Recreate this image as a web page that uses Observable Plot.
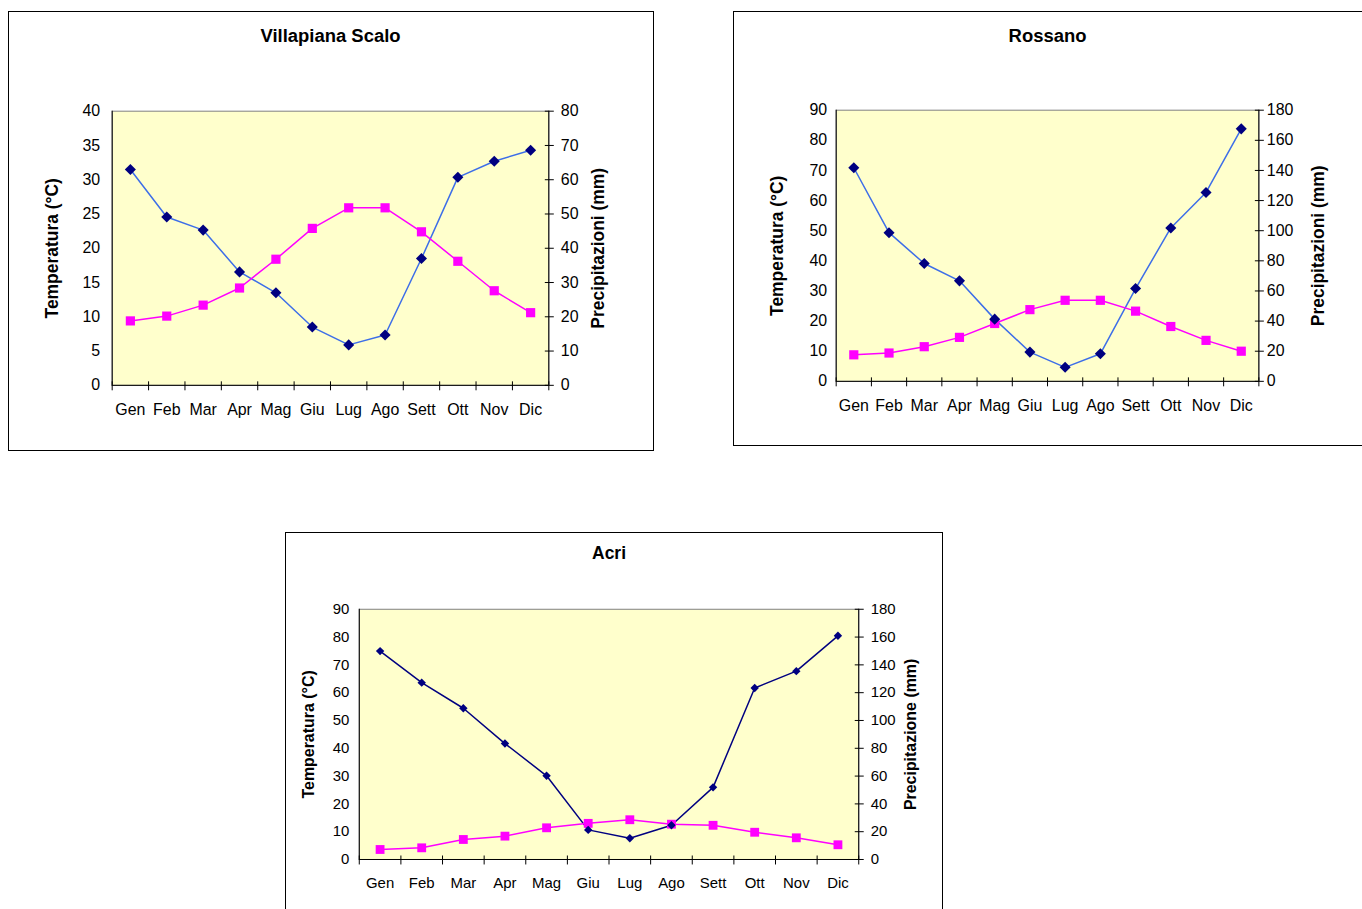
<!DOCTYPE html>
<html><head><meta charset="utf-8">
<script src="https://cdn.jsdelivr.net/npm/d3@7"></script>
<script src="https://cdn.jsdelivr.net/npm/@observablehq/plot@0.6"></script>
<style>
html,body{margin:0;padding:0;background:#fff;}
body{width:1362px;height:909px;overflow:hidden;position:relative;font-family:Arial,"Liberation Sans",sans-serif;}
.frame{position:absolute;border:1px solid #000;box-sizing:border-box;overflow:hidden;background:#fff;}
.frame svg{position:absolute;left:-1px;top:-1px;}
</style></head><body>
<div id="c1" class="frame" style="left:8px;top:11px;width:646px;height:440px"></div>
<div id="c2" class="frame" style="left:733px;top:11px;width:646px;height:435px"></div>
<div id="c3" class="frame" style="left:285px;top:532px;width:658px;height:400px"></div>
<script>
const months = ["Gen","Feb","Mar","Apr","Mag","Giu","Lug","Ago","Sett","Ott","Nov","Dic"];

const villapianaTemp = [9.4,10.1,11.7,14.2,18.4,22.9,25.9,25.9,22.4,18.1,13.8,10.6];
const villapianaPrec = [63.0,49.1,45.3,33.1,27.0,17.0,11.8,14.7,37.0,60.7,65.4,68.6];

const rossanoTemp = [8.8,9.4,11.5,14.6,19.2,23.8,26.9,26.9,23.3,18.2,13.6,10.0];
const rossanoPrec = [141.8,98.7,78.2,66.7,41.3,19.4,9.3,18.3,61.6,101.8,125.4,167.6];

const acriTemp = [3.6,4.2,7.2,8.4,11.4,13.0,14.3,12.7,12.3,9.8,7.8,5.3];
const acriPrec = [149.9,127.2,108.8,83.4,60.2,21.3,15.3,24.6,51.9,123.4,135.5,160.9];

const vTicks = [0,5,10,15,20,25,30,35,40];
const vPTicks = [0,10,20,30,40,50,60,70,80];
const rTicks = [0,10,20,30,40,50,60,70,80,90];
const rPTicks = [0,20,40,60,80,100,120,140,160,180];

const vTick = {draw(c){ c.moveTo(0,-4); c.lineTo(0,5); }};
const hTick = {draw(c){ c.moveTo(-4,0); c.lineTo(5,0); }};
const diamond = {draw(c, s){ const r = Math.sqrt(s)*0.62625; c.moveTo(0,-r); c.lineTo(r,0); c.lineTo(0,r); c.lineTo(-r,0); c.closePath(); }};

function chart(o) {
  const k = o.tMax / o.pMax;
  const mx = (d,i) => i + 0.5;
  return Plot.plot({
    width: o.width, height: o.height,
    marginLeft: o.ml, marginRight: o.mr, marginTop: o.mt, marginBottom: o.mb,
    style: {fontFamily: "Arial, 'Liberation Sans', sans-serif", fontSize: o.fs + "px", color: "#000", background: "transparent", overflow: "visible"},
    x: {domain: [0, 12], axis: null},
    y: {domain: [0, o.tMax], axis: null},
    marks: [
      Plot.frame({fill: "#FFFFCC", stroke: "#808080"}),
      Plot.ruleX([0, 12], {stroke: "#000"}),
      Plot.ruleY([0], {stroke: "#000"}),
      Plot.dot(d3.range(13), {x: d => d, y: 0, symbol: vTick, stroke: "#000", fill: null, strokeWidth: 1}),
      Plot.dot(o.pTicks, {x: 12, y: d => d * k, symbol: hTick, stroke: "#000", fill: null, strokeWidth: 1}),
      Plot.axisX(d3.range(12).map(i => i + 0.5), {tickSize: 0, tickPadding: o.xPad, tickFormat: d => months[Math.floor(d)], label: null, fontSize: o.fs}),
      Plot.axisY(o.tTicks, {anchor: "left", tickSize: 0, tickPadding: o.lPad, label: null, fontSize: o.fs}),
      Plot.axisY(o.pTicks.map(v => v * k), {anchor: "right", tickSize: 0, tickPadding: o.rPad, tickFormat: v => String(Math.round(v / k)), label: null, fontSize: o.fs}),
      Plot.line(o.prec, {x: mx, y: d => d * k, stroke: o.lineColor, strokeWidth: 1.5}),
      Plot.line(o.temp, {x: mx, y: d => d, stroke: "#FF00FF", strokeWidth: 1.5}),
      Plot.dot(o.temp, {x: mx, y: d => d, symbol: "square", r: o.sqR, fill: "#FF00FF", stroke: null}),
      Plot.dot(o.prec, {x: mx, y: d => d * k, symbol: diamond, r: o.diR, fill: "#000080", stroke: null}),
      Plot.text([o.title], {text: d => d, frameAnchor: "top", dy: o.titleDy, textAnchor: "middle", lineAnchor: "middle", fontWeight: "bold", fontSize: o.titleFs}),
      Plot.text([o.leftLabel], {text: d => d, frameAnchor: "left", dx: o.leftDx, rotate: -90, textAnchor: "middle", lineAnchor: "middle", fontWeight: "bold", fontSize: o.labFs}),
      Plot.text([o.rightLabel], {text: d => d, frameAnchor: "right", dx: o.rightDx, rotate: -90, textAnchor: "middle", lineAnchor: "middle", fontWeight: "bold", fontSize: o.labFs})
    ]
  });
}

document.getElementById("c1").append(chart({
  width: 646, height: 440, ml: 104, mr: 104, mt: 100, mb: 65,
  temp: villapianaTemp, prec: villapianaPrec, tMax: 40, pMax: 80, tTicks: vTicks, pTicks: vPTicks,
  lineColor: "#3D6EE8", fs: 16, xPad: 18, lPad: 12, rPad: 12,
  sqR: 5.2, diR: 5, title: "Villapiana Scalo", titleDy: -75, titleFs: 18.5,
  leftLabel: "Temperatura (°C)", rightLabel: "Precipitazioni (mm)", leftDx: -60, rightDx: 50, labFs: 17.5
}));

document.getElementById("c2").append(chart({
  width: 646, height: 435, ml: 103, mr: 119, mt: 99, mb: 64,
  temp: rossanoTemp, prec: rossanoPrec, tMax: 90, pMax: 180, tTicks: rTicks, pTicks: rPTicks,
  lineColor: "#3D6EE8", fs: 16, xPad: 18, lPad: 9, rPad: 8,
  sqR: 5.2, diR: 5, title: "Rossano", titleDy: -74, titleFs: 18.5,
  leftLabel: "Temperatura (°C)", rightLabel: "Precipitazioni (mm)", leftDx: -59, rightDx: 60, labFs: 17.5
}));

document.getElementById("c3").append(chart({
  width: 658, height: 400, ml: 74, mr: 83, mt: 77, mb: 72,
  temp: acriTemp, prec: acriPrec, tMax: 90, pMax: 180, tTicks: rTicks, pTicks: rPTicks,
  lineColor: "#000080", fs: 15, xPad: 18, lPad: 10, rPad: 12,
  sqR: 5.0, diR: 3.8, title: "Acri", titleDy: -56, titleFs: 17.5,
  leftLabel: "Temperatura (°C)", rightLabel: "Precipitazione (mm)", leftDx: -51, rightDx: 52, labFs: 16
}));
</script>
</body></html>
